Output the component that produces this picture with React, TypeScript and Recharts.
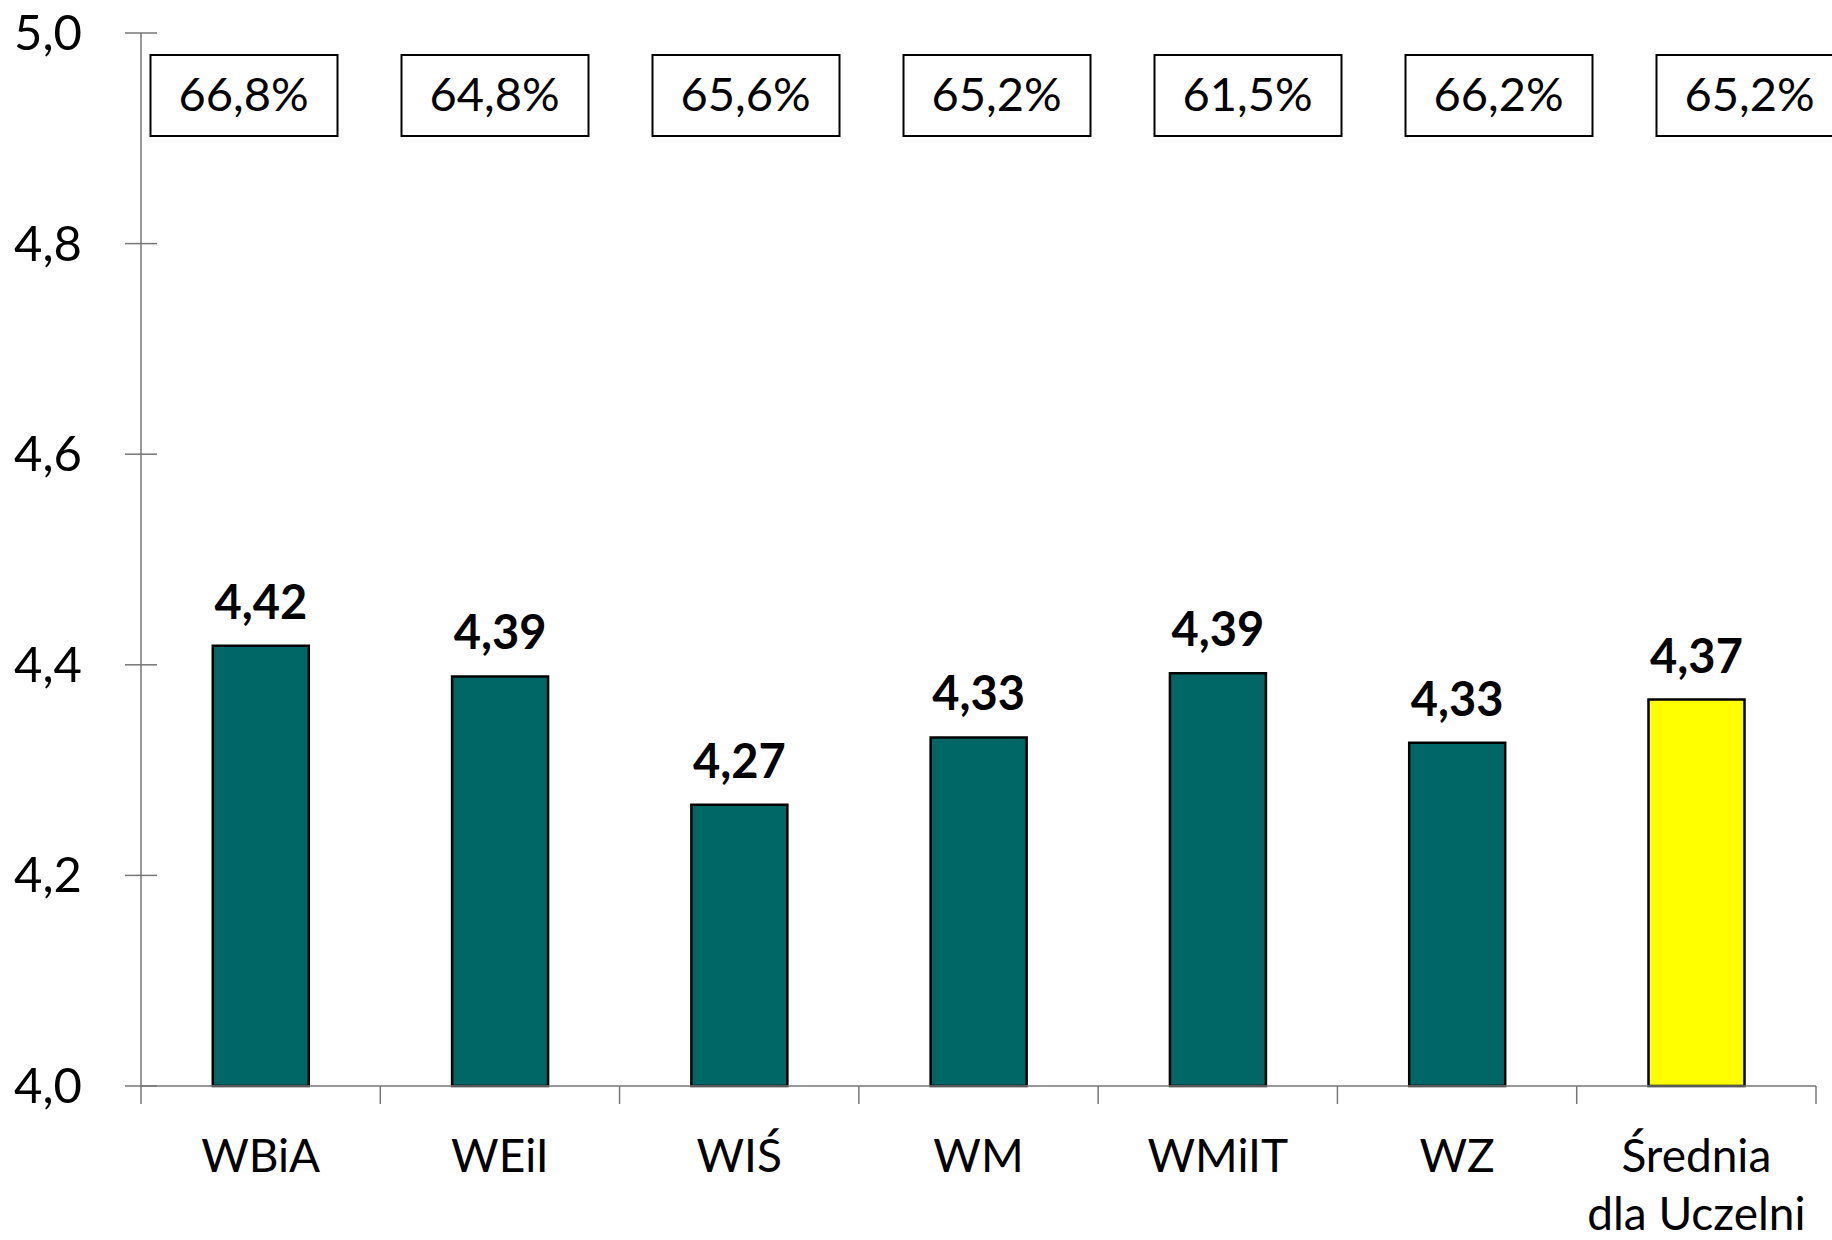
import React from 'react';
import { ComposedChart, Bar, Scatter, XAxis, YAxis, Cell, LabelList } from 'recharts';

const categories = ['WBiA', 'WEiI', 'WIŚ', 'WM', 'WMiIT', 'WZ', 'Średnia\ndla Uczelni'];
const scores = [4.418, 4.389, 4.267, 4.331, 4.392, 4.326, 4.367];
const responseRates = [66.8, 64.8, 65.6, 65.2, 61.5, 66.2, 65.2];
const yTicks = [4.0, 4.2, 4.4, 4.6, 4.8, 5.0];

const data = categories.map((name, i) => ({ name, score: scores[i], pct: responseRates[i] }));

const W = 1832;
const H = 1240;
const LEFT = 141;
const RIGHT = 16;
const TOP = 33;
const X_AXIS_H = 154;
const BAND = (W - LEFT - RIGHT) / categories.length;
const FONT = 'Lato, "Open Sans", sans-serif';
const AXIS = '#777';
const Y_TICK_MARGIN = 61;

const fmt1 = (v: number) => v.toFixed(1).replace('.', ',');
const fmt2 = (v: number) => v.toFixed(2).replace('.', ',');

const YTick = ({ x, y, payload }: any) => {
  const ax = x + Y_TICK_MARGIN;
  return (
    <g>
      <line x1={ax - 16} x2={ax + 16} y1={y} y2={y} stroke={AXIS} strokeWidth={1.5} />
      <text x={x + 2} y={y + 17} textAnchor="end" fontFamily={FONT} fontSize={49} fill="#000">
        {fmt1(payload.value)}
      </text>
    </g>
  );
};

const XTick = ({ x, y, payload, index }: any) => {
  const lines = String(payload.value).split('\n');
  const left = x - BAND / 2;
  return (
    <g>
      <line x1={left} x2={left} y1={y} y2={y + 18} stroke={AXIS} strokeWidth={1.5} />
      {index === categories.length - 1 && (
        <line x1={x + BAND / 2} x2={x + BAND / 2} y1={y} y2={y + 18} stroke={AXIS} strokeWidth={1.5} />
      )}
      <text textAnchor="middle" fontFamily={FONT} fontSize={46} fill="#000">
        {lines.map((l, i) => (
          <tspan key={i} x={x} y={y + 86 + i * 58}>{l}</tspan>
        ))}
      </text>
    </g>
  );
};

const ValueLabel = ({ x, y, width, value }: any) => (
  <text x={x + width / 2} y={y - 27} textAnchor="middle" fontFamily={FONT} fontWeight={700} fontSize={47} fill="#000">
    {fmt2(value)}
  </text>
);

const PctBox = ({ cx, payload }: any) => (
  <g>
    <rect x={cx - 93} y={55} width={187} height={81} fill="#fff" stroke="#000" strokeWidth={2} />
    <text x={cx} y={111} textAnchor="middle" fontFamily={FONT} fontSize={47} fill="#000">
      {payload.pct.toFixed(1).replace('.', ',')}%
    </text>
  </g>
);

export default function App() {
  return (
    <div style={{ width: W, height: H, background: '#fff' }}>
      <style>{`body{margin:0}`}</style>
      <ComposedChart width={W} height={H} data={data} margin={{ top: TOP, right: RIGHT, bottom: 0, left: 0 }} barCategoryGap="30%">
        <XAxis
          dataKey="name"
          height={X_AXIS_H}
          interval={0}
          tickSize={0}
          tickMargin={0}
          stroke={AXIS}
          strokeWidth={1.5}
          tick={<XTick />}
        />
        <XAxis xAxisId="pct" dataKey="name" hide padding={{ left: -23, right: -59 }} />
        <YAxis
          domain={[4, 5]}
          ticks={yTicks}
          width={LEFT}
          tickSize={0}
          tickMargin={Y_TICK_MARGIN}
          stroke={AXIS}
          strokeWidth={1.5}
          tick={<YTick />}
          interval={0}
        />
        <YAxis yAxisId="pct" hide domain={[0, 100]} />
        <Bar dataKey="score" stroke="#000" strokeWidth={2.5} isAnimationActive={false}>
          {data.map((d, i) => (
            <Cell key={d.name} fill={i === data.length - 1 ? '#ffff00' : '#006666'} />
          ))}
          <LabelList dataKey="score" content={<ValueLabel />} />
        </Bar>
        <Scatter xAxisId="pct" yAxisId="pct" dataKey="pct" shape={<PctBox />} isAnimationActive={false} />
      </ComposedChart>
    </div>
  );
}
